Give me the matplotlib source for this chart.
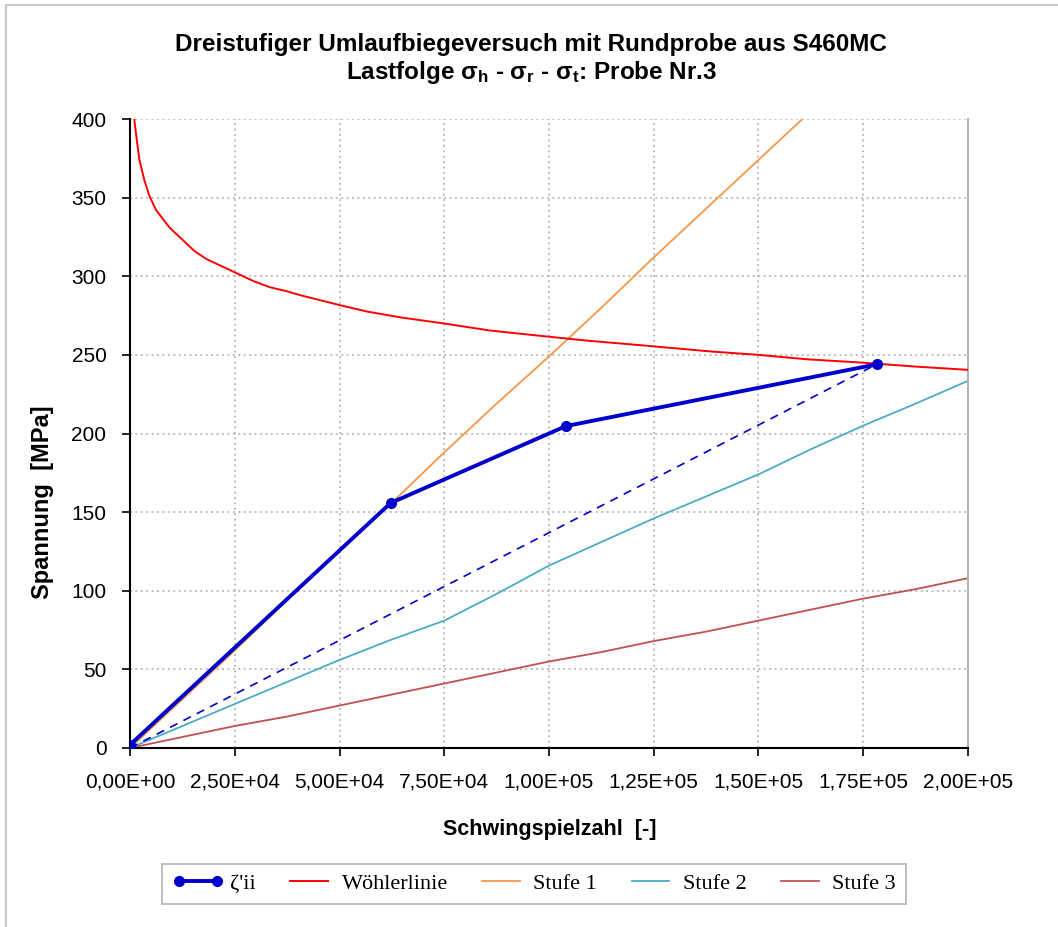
import matplotlib
matplotlib.use('Agg')
import matplotlib.pyplot as plt
from matplotlib.ticker import FuncFormatter, MultipleLocator
from matplotlib.patches import Rectangle

plt.rcParams['font.family'] = ['Liberation Sans', 'DejaVu Sans']
plt.rcParams['mathtext.fontset'] = 'custom'
plt.rcParams['mathtext.rm'] = 'Liberation Sans:bold'
plt.rcParams['mathtext.default'] = 'rm'

# zeta'ii points (load sequence) and damage line
zeta_n = [0, 62200, 104000, 178200]
zeta_s = [2, 155.8, 204.7, 244.0]
dash_n = [0, 178200]
dash_s = [0, 244.0]

# Woehler line
woehler_n = [1000, 1600, 2240, 3430, 4630, 6230, 9420, 12200, 15400, 18200,
             23000, 26200, 29400, 33400, 37400, 40600, 50000, 56500, 64900,
             74900, 85900, 99800, 109000, 125100, 138500, 150000, 161600,
             175200, 187800, 200000]
woehler_s = [400, 387, 374, 361, 351, 342, 331, 324, 316, 311,
             305, 301, 297, 293, 290.5, 288, 281.7, 277.6, 273.7,
             270, 265.5, 261.6, 259.1, 255.4, 252.2, 250, 247.2,
             245, 242.5, 240.5]

# Stufe lines
stufe_n = [0, 12500, 25000, 37500, 50000, 62500, 75000, 87500, 100000,
           112500, 125000, 137500, 150000, 162500, 175000, 187500, 200000]
stufe1_s = [0, 31, 62, 94, 125, 156, 188, 219, 249, 280, 312, 343, 374, 405,
            437, 468, 500]
stufe2_s = [0, 14, 28, 42, 56, 69, 81, 98, 116, 131, 146, 160, 174, 190, 205,
            219, 233.5]
stufe3_s = [0, 7, 14, 20, 27, 34, 41, 48, 55, 61, 68, 74, 81, 88, 95, 101, 108]

fig = plt.figure(figsize=(10.58, 9.27), dpi=100)
ax = fig.add_axes([0.1229, 0.1931, 0.792, 0.6785])

ax.plot(stufe_n, stufe3_s, color='#C0504D', lw=1.3, label='Stufe 3', zorder=2)
ax.plot(stufe_n, stufe2_s, color='#4BACC6', lw=1.3, label='Stufe 2', zorder=2)
ax.plot(stufe_n, stufe1_s, color='#F79646', lw=1.3, label='Stufe 1', zorder=2)
ax.plot(woehler_n, woehler_s, color='#FF0000', lw=1.4, label='Wöhlerlinie', zorder=3)
ax.plot(dash_n, dash_s, color='#0000CC', lw=1.2, ls=(0, (5, 4)), zorder=4)
ax.plot(zeta_n, zeta_s, color='#0000CC', lw=2.8, marker='o', ms=7,
        label="ζ'ii", zorder=5)

ax.set_xlim(0, 200000)
ax.set_ylim(0, 400)
ax.xaxis.set_major_locator(MultipleLocator(25000))
ax.yaxis.set_major_locator(MultipleLocator(50))
ax.xaxis.set_major_formatter(FuncFormatter(lambda v, p: f"{v:.2E}".replace('.', ',')))
ax.tick_params(axis='both', direction='out', length=6, width=1.2, labelsize=15, colors='black')
ax.tick_params(axis='x', pad=12)
ax.tick_params(axis='y', pad=11)
ax.grid(True, color='#b4b4b4', ls=(0, (1, 2)), lw=1.3)
ax.set_axisbelow(True)

ax.spines['top'].set_visible(False)
ax.spines['right'].set_color('#b4b4b4')
ax.spines['right'].set_linewidth(1.5)
ax.spines['left'].set_linewidth(1.5)
ax.spines['bottom'].set_linewidth(1.5)

fig.text(550 / 1058, 1 - 829 / 927, 'Schwingspielzahl  [-]', ha='center', va='center',
         fontsize=15.5, fontweight='bold')
fig.text(43 / 1058, 1 - 502 / 927, 'Spannung  [MPa]', ha='center', va='center',
         rotation=90, fontsize=17, fontweight='bold')

fig.text(0.502, 1 - 45 / 927, 'Dreistufiger Umlaufbiegeversuch mit Rundprobe aus S460MC',
         ha='center', va='center', fontsize=17.5, fontweight='bold')
fig.text(0.502, 1 - 72 / 927, r'Lastfolge σ$_{h}$ - σ$_{r}$ - σ$_{t}$: Probe Nr.3',
         ha='center', va='center', fontsize=17.5, fontweight='bold')

handles, labels = ax.get_legend_handles_labels()
order = [4, 3, 2, 1, 0]
leg = fig.legend([handles[i] for i in order], [labels[i] for i in order],
                 loc='center', bbox_to_anchor=(534 / 1058, 1 - 884 / 927),
                 ncol=5, numpoints=2, handlelength=2.3, handletextpad=0.3,
                 columnspacing=1.25, fancybox=False, framealpha=1,
                 edgecolor='#b4b4b4', borderpad=0.45,
                 prop={'family': 'Liberation Serif', 'size': 16})
leg.get_frame().set_linewidth(1.2)

fig.patches.append(Rectangle((6 / 1058, -0.1), 1.2, 1.1 - 5 / 927, transform=fig.transFigure,
                             fill=False, edgecolor='#c8c8c8', lw=1.5, clip_on=False))

fig.savefig('out.png', dpi=100)
